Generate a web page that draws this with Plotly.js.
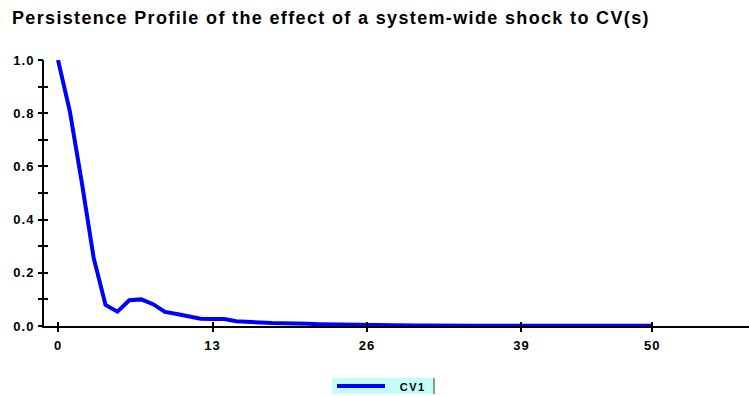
<!DOCTYPE html>
<html>
<head>
<meta charset="utf-8">
<script src="https://cdn.plot.ly/plotly-3.0.1.min.js"></script>
<style>
html,body{margin:0;padding:0;background:#fff;}
#chart{width:749px;height:396px;}
#chart .gtitle{letter-spacing:1.35px;}
#chart .xtick text, #chart .ytick text{letter-spacing:1px;}
#chart .annotation-text{letter-spacing:1.5px;}
</style>
</head>
<body>
<div id="chart"></div>
<script>
const horizon = [];
for (let i = 0; i <= 50; i++) horizon.push(i);
const cv1 = [1.0, 0.806, 0.54, 0.256, 0.079, 0.054, 0.097, 0.100, 0.082, 0.053,
  0.045, 0.035, 0.027, 0.026, 0.026, 0.018, 0.014, 0.013, 0.011, 0.009,
  0.008, 0.008, 0.007, 0.006, 0.005, 0.005, 0.004, 0.004, 0.003, 0.002,
  0.002, 0.002, 0.001, 0.001, 0.001, 0.001, 0.001, 0.001, 0.001, 0.001,
  0.001, 0.001, 0.001, 0.001, 0.001, 0.001, 0.001, 0.001, 0.001, 0.001, 0.001];
const xTicks = [0, 13, 26, 39, 50];
const yTicks = [0, 0.2, 0.4, 0.6, 0.8, 1.0];
const seriesName = 'CV1';
const titleText = 'Persistence Profile of the effect of a system-wide shock to CV(s)';

const font = {family: '"Liberation Sans", Arial, sans-serif', color: '#000'};
const lineColor = '#0000ff';

const traces = [{
  x: horizon, y: cv1, type: 'scatter', mode: 'lines', name: seriesName,
  line: {color: lineColor, width: 4}
}];

const xr = [-1.18, 58.15];
const yr = [0, 1.0];

// legend box geometry (paper coords), derived from pixel layout
const L = 44, W = 705, B = 326, H = 266;
const px = v => (v - L) / W;
const py = v => (B - v) / H;

const tickAxisY = (side) => ({range: yr, overlaying: 'y', tickvals: yTicks, showticklabels: false, ticks: side,
  ticklen: side === 'inside' ? 4 : 5, tickwidth: 2, tickcolor: '#000', showgrid: false, zeroline: false, showline: false,
  minor: {dtick: 0.1, ticks: side, ticklen: side === 'inside' ? 4 : 5, tickwidth: 2, tickcolor: '#000'}});

const layout = {
  width: 749, height: 396,
  margin: {l: 44, r: 0, t: 60, b: 70},
  paper_bgcolor: '#fff', plot_bgcolor: '#fff',
  title: {text: '<b>' + titleText + '</b>', x: 0.016, xanchor: 'left', y: 0.955, yanchor: 'middle',
          font: Object.assign({size: 18}, font)},
  showlegend: false,
  xaxis: {range: xr, tickvals: xTicks, ticktext: xTicks.map(String), ticks: 'outside', ticklen: 4,
          tickwidth: 2, tickcolor: '#000', showline: true, linecolor: '#000', linewidth: 2,
          showgrid: false, zeroline: false, fixedrange: true, ticklabelstandoff: 2,
          tickfont: Object.assign({size: 13, weight: 'bold'}, font)},
  yaxis: {range: yr, tickvals: yTicks, ticktext: yTicks.map(v => v.toFixed(1)), ticks: '',
          showline: true, linecolor: '#000', linewidth: 2,
          showgrid: false, zeroline: false, fixedrange: true, ticklabelstandoff: 5,
          tickfont: Object.assign({size: 13, weight: 'bold'}, font)},
  xaxis2: {range: xr, overlaying: 'x', tickvals: xTicks, showticklabels: false, ticks: 'inside', ticklen: 4,
           tickwidth: 2, tickcolor: '#000', showgrid: false, zeroline: false, showline: false},
  yaxis2: tickAxisY('inside'),
  yaxis3: tickAxisY('outside'),
  shapes: [
    {type: 'rect', xref: 'paper', yref: 'paper', x0: px(332), x1: px(435), y0: py(378), y1: py(394),
     fillcolor: '#c4fcfc', line: {width: 0}, layer: 'above'},
    {type: 'line', xref: 'paper', yref: 'paper', x0: px(434), x1: px(434), y0: py(378), y1: py(394),
     line: {color: '#8a9a9a', width: 2}, layer: 'above'},
    {type: 'line', xref: 'paper', yref: 'paper', x0: px(337), x1: px(385), y0: py(386), y1: py(386),
     line: {color: lineColor, width: 4}, layer: 'above'}
  ],
  annotations: [
    {text: '<b>' + seriesName + '</b>', xref: 'paper', yref: 'paper', x: px(412), y: py(386.5),
     xanchor: 'center', yanchor: 'middle', showarrow: false, font: Object.assign({size: 11}, font)}
  ]
};

traces.push({x: [0], y: [0], xaxis: 'x2', yaxis: 'y2', mode: 'markers', marker: {opacity: 0}, showlegend: false, hoverinfo: 'skip'});
traces.push({x: [0], y: [0], xaxis: 'x', yaxis: 'y3', mode: 'markers', marker: {opacity: 0}, showlegend: false, hoverinfo: 'skip'});

Plotly.newPlot('chart', traces, layout, {displayModeBar: false, staticPlot: true});
</script>
</body>
</html>
